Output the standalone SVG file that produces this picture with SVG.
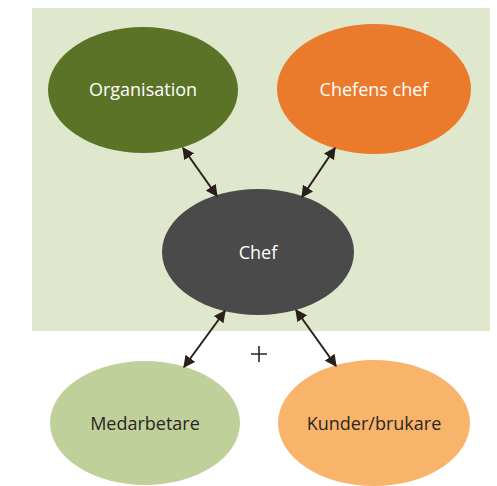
<svg xmlns="http://www.w3.org/2000/svg" width="497" height="486" viewBox="0 0 497 486">
  <style>
    .lbl { font-family: "Open Sans", "Noto Sans", sans-serif; font-size: 18px; text-anchor: middle; dominant-baseline: central; }
    .light { fill: #ffffff; }
    .dark { fill: #2b2623; }
    .conn { stroke: #2a201b; stroke-width: 2; fill: none; marker-start: url(#head); marker-end: url(#head); }
  </style>
  <defs>
    <marker id="head" viewBox="0 0 10 10" refX="9" refY="5" markerWidth="6" markerHeight="6" orient="auto-start-reverse" markerUnits="strokeWidth">
      <path d="M0,0 L10,5 L0,10 z" fill="#2a201b"/>
    </marker>
  </defs>
  <rect x="32" y="8" width="458" height="323" fill="#dfe7cc"/>
  <g id="organisation">
    <ellipse cx="143" cy="90" rx="95" ry="63" fill="#5b7327"/>
    <text class="lbl light" x="143" y="89">Organisation</text>
  </g>
  <g id="chefens-chef">
    <ellipse cx="374" cy="89" rx="97" ry="65" fill="#ea7a2c"/>
    <text class="lbl light" x="374" y="89">Chefens chef</text>
  </g>
  <g id="chef">
    <ellipse cx="258" cy="252" rx="96" ry="63" fill="#4a4a4a"/>
    <text class="lbl light" x="258" y="252">Chef</text>
  </g>
  <g id="medarbetare">
    <ellipse cx="145" cy="423" rx="95" ry="62" fill="#bfd09b"/>
    <text class="lbl dark" x="145" y="423">Medarbetare</text>
  </g>
  <g id="kunder">
    <ellipse cx="374" cy="423" rx="96" ry="63" fill="#f8b46a"/>
    <text class="lbl dark" x="374" y="423">Kunder/brukare</text>
  </g>
  <g id="connectors">
    <line class="conn" x1="183" y1="148" x2="217" y2="196"/>
    <line class="conn" x1="335" y1="148" x2="302" y2="197"/>
    <line class="conn" x1="225" y1="311" x2="184" y2="367"/>
    <line class="conn" x1="296" y1="310" x2="336" y2="366"/>
  </g>
  <!-- plus sign between the lower connectors -->
  <path d="M251,354 H267 M259,346 V362" stroke="#2b2623" stroke-width="1.6" fill="none"/>
</svg>
